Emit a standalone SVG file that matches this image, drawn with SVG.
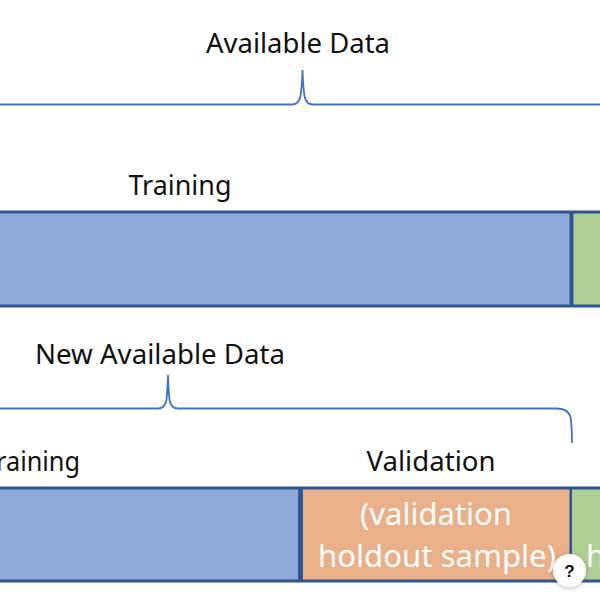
<svg xmlns="http://www.w3.org/2000/svg" width="600" height="600" viewBox="0 0 600 600">
<defs><filter id="sh" x="-40%" y="-40%" width="180%" height="180%"><feDropShadow dx="0" dy="1" stdDeviation="2.5" flood-color="#000" flood-opacity="0.25"/></filter></defs>
<style>
text{font-family:"Noto Sans","Open Sans","Liberation Sans",sans-serif;font-size:27px;fill:#111}
.w{fill:#fff;font-size:31px}
.b{stroke:none}
.edge{stroke:#2f5597;stroke-width:3;fill:none}
.br{stroke:#4472c4;stroke-width:1.8;fill:none}
</style>
<rect width="600" height="600" fill="#fff"/>
<g id="connectors">
<path class="br" d="M-2 104.500H292Q299 104.500 300.500 96Q302 86 302.500 70Q303 86 304.500 96Q306 104.500 313 104.500H602"/>
<path class="br" d="M-2 408.500H158Q165 408.500 166.500 400Q167.500 390 168 375Q168.500 390 169.500 400Q171 408.500 178 408.500H556Q570 408.500 571 420Q572 430 572 443"/>
</g>
<g id="label-available"><text x="298" y="53" text-anchor="middle" textLength="184" lengthAdjust="spacingAndGlyphs">Available Data</text></g>
<g id="label-training-top"><text x="180" y="195" text-anchor="middle" textLength="103" lengthAdjust="spacingAndGlyphs">Training</text></g>
<g id="bar-top">
<rect class="b" x="-5" y="212" width="577" height="94" fill="#91a9d9"/>
<rect class="b" x="572" y="212" width="33" height="94" fill="#b0cf93"/>
<path class="edge" d="M-5 212H605M-5 306H605"/>
<rect class="b" x="569.500" y="212" width="4" height="94" fill="#2f5597"/>
</g>
<g id="label-new"><text x="160" y="364" text-anchor="middle" textLength="250" lengthAdjust="spacingAndGlyphs">New Available Data</text></g>
<g id="label-training-bottom"><text x="80" y="471" text-anchor="end" textLength="84" lengthAdjust="spacingAndGlyphs">raining</text></g>
<g id="label-validation"><text x="431" y="471" text-anchor="middle" textLength="129" lengthAdjust="spacingAndGlyphs">Validation</text></g>
<g id="bar-bottom">
<rect class="b" x="-5" y="488" width="305" height="93" fill="#91a9d9"/>
<rect class="b" x="300" y="488" width="270" height="93" fill="#e9b08a"/>
<rect class="b" x="570" y="488" width="35" height="93" fill="#b0cf93"/>
<path class="edge" d="M-5 488H605M-5 581H605"/>
<rect class="b" x="298" y="488" width="5" height="93" fill="#2f5597"/>
<rect class="b" x="569.500" y="488" width="2.500" height="93" fill="#2f5597"/>
<text class="w" x="436" y="525" text-anchor="middle" textLength="152" lengthAdjust="spacingAndGlyphs">(validation</text>
<text class="w" x="437" y="567" text-anchor="middle" textLength="238" lengthAdjust="spacingAndGlyphs">holdout sample)</text>
<text class="w" x="586" y="567">h</text>
</g>
<g id="help-badge">
<circle cx="569.500" cy="570.500" r="16.500" fill="#fff" filter="url(#sh)"/>
<text x="569.500" y="576.500" text-anchor="middle" style="font-family:'Liberation Sans',sans-serif;font-size:17px;font-weight:700">?</text>
</g>
</svg>
